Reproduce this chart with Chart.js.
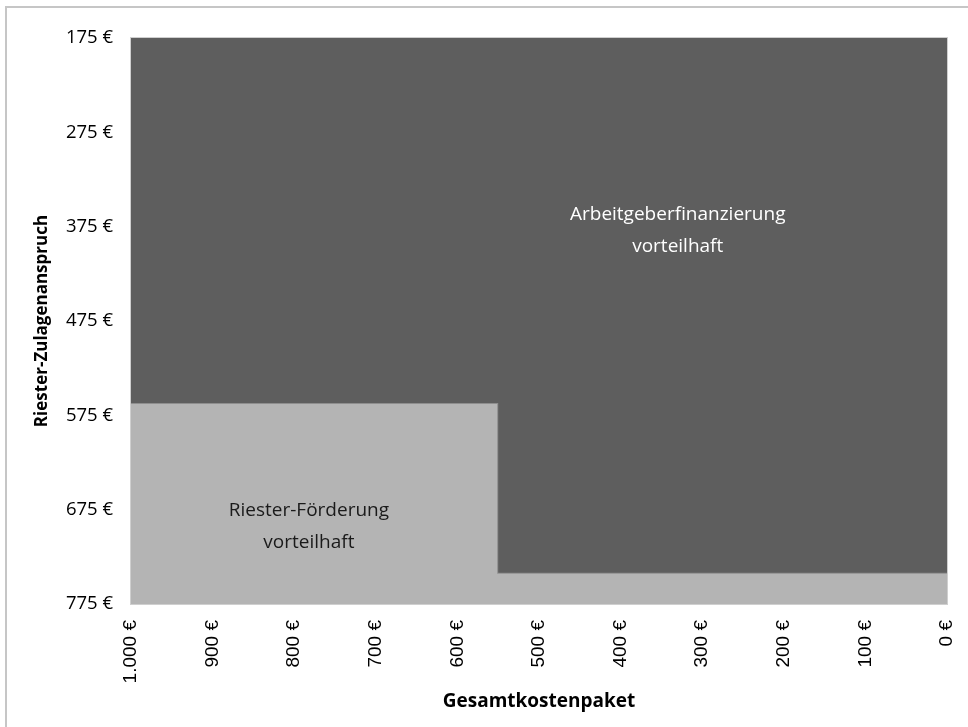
<!DOCTYPE html>
<html lang="de">
<head>
<meta charset="utf-8">
<title>Riester-Förderung vs. Arbeitgeberfinanzierung</title>
<script src="https://cdn.jsdelivr.net/npm/chart.js@4.4.1/dist/chart.umd.min.js"></script>
<style>
    body { margin: 0; background: #fff; overflow: hidden; }
    #rahmen {
        position: absolute; left: 5px; top: 6px;
        width: 990px; height: 760px;
        border: 2px solid #c6c6c6;
        box-sizing: border-box;
    }
    #grafik { position: absolute; left: 0; top: 0; }
</style>
</head>
<body>
<div id="rahmen"></div>
<canvas id="grafik" width="968" height="727"></canvas>
<script>
// Grenzlinie zwischen den beiden Bereichen (Gesamtkosten -> Zulagenanspruch)
const gesamtkosten = [1000, 550, 550, 0];
const zulagenGrenze = [562, 562, 742, 742];

// Achsenbereiche
const kostenTicks = [0, 100, 200, 300, 400, 500, 600, 700, 800, 900, 1000];
const zulageTicks = [175, 275, 375, 475, 575, 675, 775];

// Beschriftungen der Bereiche
const bereichTexte = [
    ['Arbeitgeberfinanzierung', 'vorteilhaft'],
    ['Riester-Förderung', 'vorteilhaft']
];
const bereichKosten = [330, 782];
const bereichZulage = [379, 693];

function euro(wert) {
    const s = String(wert).replace(/\B(?=(\d{3})+(?!\d))/g, '.');
    return s + ' €';
}

const punkte = gesamtkosten.map((x, i) => ({ x: x, y: zulagenGrenze[i] }));

// Rahmen um die Zeichenfläche
const rahmenPlugin = {
    id: 'rahmenPlugin',
    beforeDatasetsDraw(chart) {
        const a = chart.chartArea;
        const ctx = chart.ctx;
        ctx.save();
        ctx.strokeStyle = '#cfcfcf';
        ctx.lineWidth = 2;
        ctx.strokeRect(a.left, a.top, a.right - a.left, a.bottom - a.top);
        ctx.restore();
    }
};

// Texte in den Flächen
const textPlugin = {
    id: 'textPlugin',
    afterDatasetsDraw(chart) {
        const ctx = chart.ctx;
        const sx = chart.scales.x;
        const sy = chart.scales.y;
        const farben = ['#ffffff', '#1a1a1a'];
        ctx.save();
        ctx.font = '19px "Open Sans", sans-serif';
        ctx.textAlign = 'center';
        ctx.textBaseline = 'middle';
        bereichTexte.forEach((zeilen, i) => {
            const px = sx.getPixelForValue(bereichKosten[i]);
            const py = sy.getPixelForValue(bereichZulage[i]);
            ctx.fillStyle = farben[i];
            zeilen.forEach((z, j) => {
                ctx.fillText(z, px, py + (j - (zeilen.length - 1) / 2) * 32);
            });
        });
        ctx.restore();
    }
};

const ctx = document.getElementById('grafik').getContext('2d');
new Chart(ctx, {
    type: 'line',
    data: {
        datasets: [
            {
                label: 'Arbeitgeberfinanzierung vorteilhaft',
                data: punkte,
                backgroundColor: '#5e5e5e',
                borderColor: 'rgba(0,0,0,0)',
                borderWidth: 0,
                pointRadius: 0,
                tension: 0,
                fill: { value: zulageTicks[0] }
            },
            {
                label: 'Riester-Förderung vorteilhaft',
                data: punkte,
                backgroundColor: '#b4b4b4',
                borderColor: '#8e8e8e',
                borderWidth: 2,
                pointRadius: 0,
                tension: 0,
                fill: { value: zulageTicks[zulageTicks.length - 1] }
            }
        ]
    },
    options: {
        responsive: false,
        animation: false,
        devicePixelRatio: 1,
        layout: { padding: { left: 28, right: 21, top: 38, bottom: 10 } },
        plugins: {
            legend: { display: false },
            tooltip: { enabled: false }
        },
        scales: {
            x: {
                type: 'linear',
                reverse: true,
                min: kostenTicks[0],
                max: kostenTicks[kostenTicks.length - 1],
                grid: { display: false, drawTicks: false },
                border: { display: true, color: '#d4d4d4', width: 2 },
                ticks: {
                    stepSize: 100,
                    minRotation: 90,
                    maxRotation: 90,
                    padding: 16,
                    color: '#000',
                    font: { family: '"Liberation Sans", Arial, sans-serif', size: 19 },
                    callback: (v) => euro(v)
                },
                title: {
                    display: true,
                    text: 'Gesamtkostenpaket',
                    color: '#000',
                    font: { family: '"Open Sans", sans-serif', size: 19, weight: 'bold' }
                },
                afterFit(scale) {
                    scale.height = 113;
                    scale.paddingLeft = 0;
                    scale.paddingRight = 0;
                }
            },
            y: {
                type: 'linear',
                reverse: true,
                min: zulageTicks[0],
                max: zulageTicks[zulageTicks.length - 1],
                grid: { display: false, drawTicks: false },
                border: { display: true, color: '#cccccc', width: 2 },
                ticks: {
                    stepSize: 100,
                    padding: 18,
                    color: '#000',
                    font: { family: '"Open Sans", sans-serif', size: 18.5 },
                    callback: (v) => euro(v)
                },
                title: {
                    display: true,
                    text: 'Riester-Zulagenanspruch',
                    color: '#000',
                    font: { family: '"Open Sans", sans-serif', size: 17, weight: 'bold' }
                },
                afterFit(scale) {
                    scale.width = 103;
                    scale.paddingTop = 0;
                    scale.paddingBottom = 0;
                }
            }
        }
    },
    plugins: [rahmenPlugin, textPlugin]
});
</script>
</body>
</html>
